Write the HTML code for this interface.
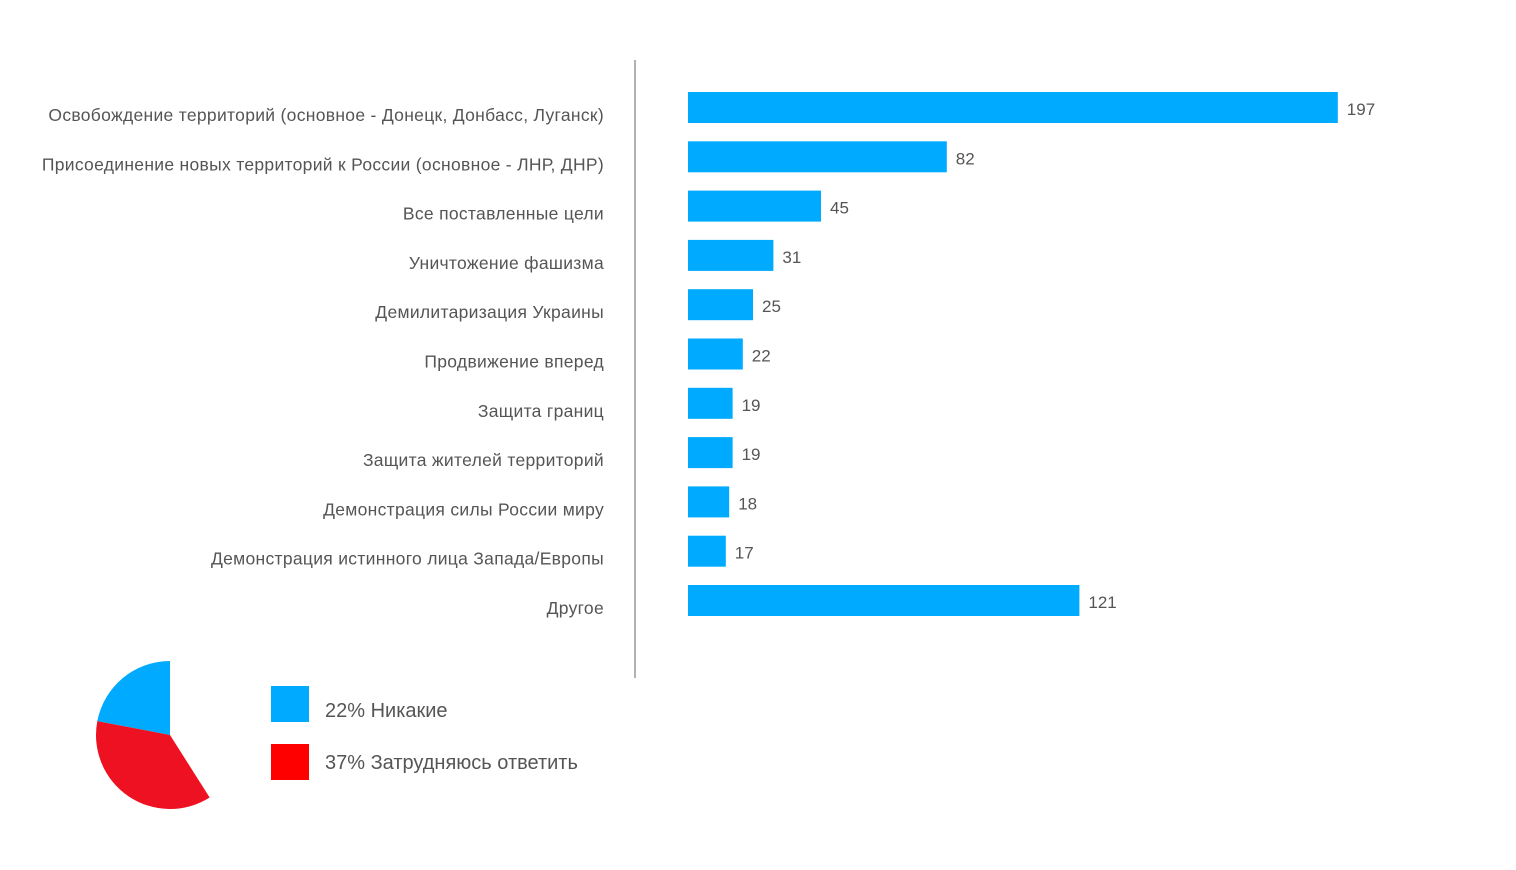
<!DOCTYPE html>
<html><head><meta charset="utf-8"><style>
body{margin:0;background:#fff;}
svg text{font-family:"Liberation Sans",sans-serif;fill:#555;}
</style></head><body>
<svg width="1516" height="865" id="c">
<line x1="635" y1="60" x2="635" y2="678" stroke="#999" stroke-width="1.5"/>
<g id="bars"></g>
<g id="pie"></g>
<rect x="271" y="686" width="38" height="36" fill="#00aaff"/>
<text x="325" y="717" font-size="20">22% Никакие</text>
<rect x="271" y="744" width="38" height="36" fill="#ff0000"/>
<text x="325" y="769" font-size="20">37% Затрудняюсь ответить</text>
</svg>
<script>
const categories=["Освобождение территорий (основное  - Донецк, Донбасс, Луганск)","Присоединение новых территорий к России (основное  - ЛНР, ДНР)","Все поставленные цели","Уничтожение фашизма","Демилитаризация Украины","Продвижение вперед","Защита границ","Защита жителей территорий","Демонстрация силы России миру","Демонстрация истинного лица Запада/Европы","Другое"];
const values=[197,82,45,31,25,22,19,19,18,17,121];
const pieLabels=["Никакие","Затрудняюсь ответить"];
const pieValues=[22,37];
const NS="http://www.w3.org/2000/svg";
const x=v=>668+3.4*v;
const y=i=>92+i*49.3;
const g=document.getElementById('bars');
categories.forEach((c,i)=>{
  const r=document.createElementNS(NS,'rect');
  r.setAttribute('x',688);r.setAttribute('y',y(i));
  r.setAttribute('width',Math.max(0,x(values[i])-688));r.setAttribute('height',31);
  r.setAttribute('fill','#00aaff');
  
  
  g.appendChild(r);
  const t=document.createElementNS(NS,'text');
  t.setAttribute('x',x(values[i])+9);t.setAttribute('y',y(i)+23);
  t.setAttribute('font-size','17');t.textContent=values[i];
  
  
  g.appendChild(t);
  const l=document.createElementNS(NS,'text');
  l.setAttribute('x',604);l.setAttribute('y',y(i)+29);
  l.setAttribute('font-size','17.5');l.setAttribute('text-anchor','end');
  l.setAttribute('letter-spacing','0.3');
  l.setAttribute('xml:space','preserve');
  l.textContent=c;
  
  
  g.appendChild(l);
});
const p=document.getElementById('pie');
const cx=170,cy=735,R=74,cols=["#00aaff","#ee1122"];
let a=0;
pieValues.forEach((v,i)=>{
  const a1=a+v/100*2*Math.PI;
  const x0=cx-R*Math.sin(a),y0=cy-R*Math.cos(a);
  const x1=cx-R*Math.sin(a1),y1=cy-R*Math.cos(a1);
  const large=(a1-a)>Math.PI?1:0;
  const path=document.createElementNS(NS,'path');
  path.setAttribute('d',`M${cx},${cy}L${x0},${y0}A${R},${R} 0 ${large} 0 ${x1},${y1}Z`);
  path.setAttribute('fill',cols[i]);
  
  
  p.appendChild(path);
  a=a1;
});
</script>
</body></html>
